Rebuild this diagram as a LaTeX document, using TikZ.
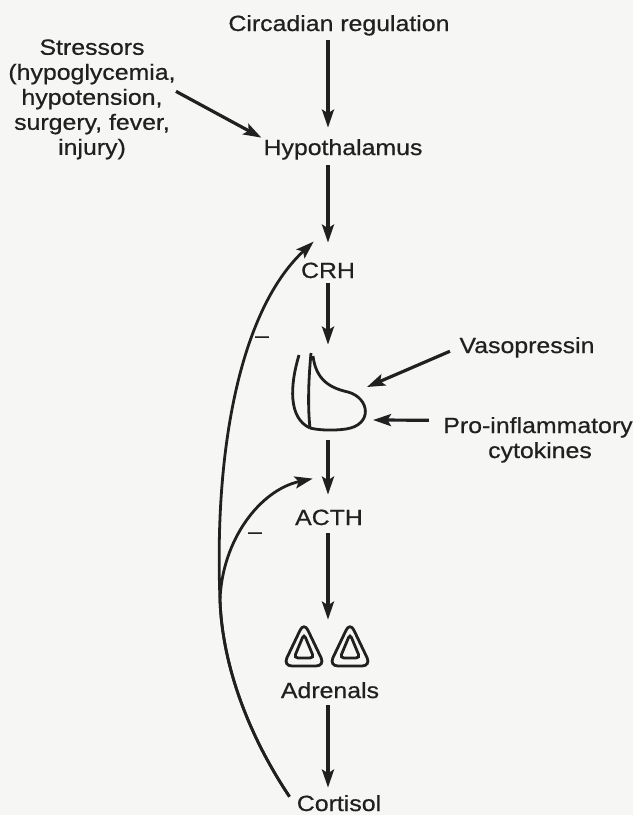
\documentclass[tikz,border=0pt]{standalone}
\usepackage{fontspec}
\setmainfont{Liberation Sans}[FakeStretch=1.13, FakeBold=0.6]
\usetikzlibrary{arrows.meta}
\definecolor{ink}{RGB}{32,32,32}
\definecolor{paper}{RGB}{246,246,245}

\begin{document}
\begin{tikzpicture}[x=0.5pt, y=-0.5pt,
    lbl/.style={inner sep=0pt, text height=8pt, text depth=2.3pt,
      font=\fontsize{11}{12.5}\selectfont, text=ink},
    flow/.style={draw=ink, line width=1.6pt,
      -{Stealth[length=9pt,width=6pt,inset=1.8pt]}},
    back/.style={flow, line width=1.4pt},
    organ/.style={draw=ink, line width=1.4pt}]
  \fill[paper] (0,0) rectangle (633,815);
  \useasboundingbox (0,0) rectangle (633,815);

  % axis labels
  \node[lbl, anchor=base] (circ) at (339,31) {Circadian regulation};
  \node[lbl, anchor=base] (hyp) at (343,155) {Hypothalamus};
  \node[lbl, anchor=base] (crh) at (328,278) {CRH};
  \node[lbl, anchor=base] (acth) at (329,525) {ACTH};
  \node[lbl, anchor=base] (adren) at (330,698) {Adrenals};
  \node[lbl, anchor=base] (cort) at (339,811) {Cortisol};
  \node[inner sep=0pt, anchor=north, align=center, text=ink,
    font=\fontsize{11}{12.5}\selectfont] (stress) at (92,39)
    {Stressors\\(hypoglycemia,\\hypotension,\\surgery, fever,\\injury)};
  \node[lbl, anchor=base] (vaso) at (527,353) {Vasopressin};
  \node[lbl, anchor=base] (proinf) at (538,433) {Pro-inflammatory};
  \node[lbl, anchor=base] (cyto) at (540,458) {cytokines};

  % pituitary: posterior lobe, midline, anterior bulb
  \node[inner sep=0pt, minimum width=37pt, minimum height=37.5pt] (pit) at (329,390.5) {};
  \draw[organ] (299,355) .. controls (290,385) and (288,418) .. (310,428);
  \draw[organ] (311,353) .. controls (308,385) and (308,410) .. (310,428);
  \draw[organ] (313,356) .. controls (316,380) and (330,388) .. (348,392)
    .. controls (370,398) and (373,425) .. (346,429)
    .. controls (332,431) and (318,430) .. (310,428);
  \coordinate (pvaso) at (367,387);
  \coordinate (pcyto) at (373,420);

  % adrenal glands
  \node[inner sep=0pt, minimum width=42pt, minimum height=18pt] (glands) at (327,645) {};
  \foreach \cx in {304,350} {
    \draw[organ, rounded corners=4.5pt] (\cx,622) -- (\cx+21,666) -- (\cx-21,666) -- cycle;
    \draw[organ, rounded corners=2pt] (\cx,634) -- (\cx+10,658) -- (\cx-10,658) -- cycle;
  }

  % main cascade
  \draw[flow, shorten <=2.2pt, shorten >=5.5pt] (circ.south -| crh) -- (hyp.north -| crh);
  \draw[flow, shorten <=2.7pt, shorten >=9.5pt] (hyp.south -| crh) -- (crh.north);
  \draw[flow, shorten >=4pt] (crh.south) -- (pit.north -| crh);
  \draw[flow, shorten <=6pt, shorten >=7pt] (pit.south -| crh) -- (acth.north -| crh);
  \draw[flow, shorten <=1.7pt, shorten >=3.5pt] (acth.south -| crh) -- (glands.north -| crh);
  \draw[flow, shorten <=1.2pt, shorten >=3.5pt] (adren.south -| crh) -- (cort.north -| crh);

  % side inputs
  \draw[flow, shorten >=1pt] ([yshift=4pt]stress.east) -- (hyp.north west);
  \draw[flow, shorten <=5pt] (vaso.west) -- (pvaso);
  \draw[flow, shorten <=7pt] ([yshift=3.5pt]proinf.west) -- (pcyto);

  % negative feedback of cortisol
  \draw[back] ([xshift=-3.5pt,yshift=-1pt]cort.north west)
    .. controls (245,730) and (222,660) .. (220,600)
    .. controls (214,450) and (240,310) .. ([xshift=6.5pt,yshift=10pt]crh.north west);
  \draw[back] ([xshift=-3.5pt,yshift=-1pt]cort.north west)
    .. controls (245,730) and (222,660) .. (220,600)
    .. controls (222,540) and (260,490) .. ([xshift=9pt,yshift=15pt]acth.north west);
  \node[lbl] (minus1) at (262,337) {--};
  \node[lbl] (minus2) at (255,533) {--};
\end{tikzpicture}
\end{document}
